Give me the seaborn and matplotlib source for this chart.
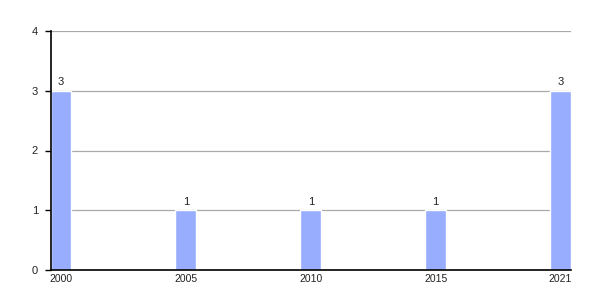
import matplotlib
matplotlib.use("Agg")
import matplotlib.pyplot as plt
import seaborn as sns
import pandas as pd

years = ["2000", "2005", "2010", "2015", "2021"]
counts = [3, 1, 1, 1, 3]

df = pd.DataFrame({"year": years, "count": counts})

sns.set_theme(style="white")
plt.rcParams["font.family"] = ["Liberation Sans", "DejaVu Sans"]

fig = plt.figure(figsize=(6, 3), dpi=100)
ax = fig.add_axes([50.5 / 600, 30 / 300, 520.5 / 600, 239 / 300])

bar_w = 0.168
sns.barplot(data=df, x="year", y="count", color="#99adff", width=bar_w,
            saturation=1, ax=ax, zorder=3)

for p, v in zip(ax.patches, counts):
    ax.text(p.get_x() + p.get_width() / 2, v + 0.06, str(v),
            ha="center", va="bottom", fontsize=8, color="#222222")

ax.set_xlim(-bar_w / 2, len(years) - 1 + bar_w / 2)
ax.set_ylim(0, 4)
ax.set_yticks([0, 1, 2, 3, 4])
ax.yaxis.grid(True, color="#aaaaaa", linewidth=0.9, zorder=0)
ax.set_axisbelow(True)
ax.set_xlabel("")
ax.set_ylabel("")

for s in ["top", "right"]:
    ax.spines[s].set_visible(False)
for s in ["left", "bottom"]:
    ax.spines[s].set_color("black")
    ax.spines[s].set_linewidth(1.2)
    ax.spines[s].set_zorder(5)

ax.tick_params(axis="y", which="major", length=4, width=1, color="black",
               labelsize=8, pad=5, left=True, labelcolor="#222222")
ax.tick_params(axis="x", which="major", length=0, labelsize=7.5, pad=3,
               labelcolor="#222222")

fig.savefig("out.png", dpi=100)
